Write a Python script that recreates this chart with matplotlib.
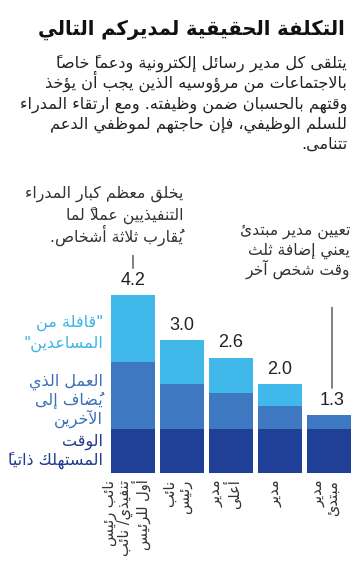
import matplotlib
matplotlib.use("Agg")
import matplotlib.pyplot as plt
from matplotlib.transforms import offset_copy

# ---- data ----
levels = ["نائب رئيس\nتنفيذي/ نائب\nأول للرئيس", "نائب\nرئيس", "مدير\nأعلى", "مدير", "مدير\nمبتدئ"]
self_time = [1.0, 1.0, 1.0, 1.0, 1.0]
added_work = [1.5, 1.0, 0.8, 0.5, 0.3]
crew = [1.5, 1.0, 0.8, 0.5, 0.0]
totals = [4.2, 3.0, 2.6, 2.0, 1.3]

title = "التكلفة الحقيقية لمديركم التالي"
body = ["يتلقى كل مدير رسائل إلكترونية ودعماً خاصاً",
        "بالاجتماعات من مرؤوسيه الذين يجب أن يؤخذ",
        "وقتهم بالحسبان ضمن وظيفته. ومع ارتقاء المدراء",
        "للسلم الوظيفي، فإن حاجتهم لموظفي الدعم",
        "تتنامى."]
note_top = ["يخلق معظم كبار المدراء", "التنفيذيين عملاً لما", "يُقارب ثلاثة أشخاص."]
note_low = ["تعيين مدير مبتدئ", "يعني إضافة ثلث", "وقت شخص آخر"]
legend_crew = ["\"قافلة من", "المساعدين\""]
legend_added = ["العمل الذي", "يُضاف إلى", "الآخرين"]
legend_self = ["الوقت", "المستهلك ذاتياً"]

DARK = "#203f96"
MID = "#3d78c1"
LIGHT = "#40b9ea"

# ---- poor man's arabic shaping (matplotlib has no bidi / joining) ----
DUAL = dict(zip("ئبتثجحخسشصضطظعغفقكلمنهي",
                [0xFE89, 0xFE8F, 0xFE95, 0xFE99, 0xFE9D, 0xFEA1, 0xFEA5, 0xFEB1, 0xFEB5, 0xFEB9,
                 0xFEBD, 0xFEC1, 0xFEC5, 0xFEC9, 0xFECD, 0xFED1, 0xFED5, 0xFED9, 0xFEDD, 0xFEE1,
                 0xFEE5, 0xFEE9, 0xFEF1]))
RIGHT = dict(zip("آأؤإاةدذرزوى",
                 [0xFE81, 0xFE83, 0xFE85, 0xFE87, 0xFE8D, 0xFE93, 0xFEA9, 0xFEAB, 0xFEAD, 0xFEAF,
                  0xFEED, 0xFEEF]))
LAMALEF = {"آ": 0xFEF5, "أ": 0xFEF7, "إ": 0xFEF9, "ا": 0xFEFB}


def jtype(u):
    if u[0] == "LA":
        return "R"
    c = u[1]
    if c in DUAL:
        return "D"
    if c in RIGHT:
        return "R"
    return None


def shape(s):
    units = []
    i = 0
    while i < len(s):
        c = s[i]
        if 0x064B <= ord(c) <= 0x0652 and units:
            units[-1][2].append(c)
            i += 1
            continue
        if c == "ل" and i + 1 < len(s) and s[i + 1] in LAMALEF:
            units.append(["LA", s[i + 1], []])
            i += 2
            continue
        units.append(["C", c, []])
        i += 1
    out = []
    for k, u in enumerate(units):
        t = jtype(u)
        prev = jtype(units[k - 1]) if k > 0 else None
        nxt = jtype(units[k + 1]) if k + 1 < len(units) else None
        cp = t in ("D", "R") and prev == "D"
        cn = t == "D" and nxt in ("D", "R")
        if u[0] == "LA":
            g = chr(LAMALEF[u[1]] + (1 if cp else 0))
        elif t == "D":
            g = chr(DUAL[u[1]] + (3 if cp and cn else 1 if cp else 2 if cn else 0))
        elif t == "R":
            g = chr(RIGHT[u[1]] + (1 if cp else 0))
        elif u[1] == "ء":
            g = chr(0xFE80)
        else:
            g = u[1]
        # marks go in front so they land on their base glyph
        out.append("".join(u[2]) + g)
    return "".join(out[::-1])


def ar(s):
    return "\n".join(shape(line) for line in s.split("\n"))


W, H = 359, 565
fig = plt.figure(figsize=(W / 100, H / 100), dpi=100)
renderer = fig.canvas.get_renderer()


def fx(x):
    return x / W


def fy(y):
    return 1 - y / H


def fit(t, width):
    # scale the font so the text spans the wanted pixel width
    w = t.get_window_extent(renderer).width
    t.set_fontsize(t.get_fontsize() * width / w)


AR_FONT = "DejaVu Sans"

# title and intro
tt = fig.text(fx(345), fy(35), ar(title), ha="right", va="baseline", fontsize=14,
              fontweight="bold", family=AR_FONT, color="#111111")
fit(tt, 308)
for n, line in enumerate(body):
    fig.text(fx(347), fy(68 + n * 20.2), ar(line), ha="right", va="baseline",
             fontsize=11.6, family=AR_FONT, color="#222222")

# chart
px_per_unit = 44.4
ax = fig.add_axes([fx(108.5), fy(473), fx(245), (473 - 180) / H])
ax.set_xlim(-0.5, 4.5)
ax.set_ylim(0, (473 - 180) / px_per_unit)
ax.axis("off")

x = list(range(len(levels)))
mid_bottom = [a + b for a, b in zip(self_time, added_work)]
tops = [a + b for a, b in zip(mid_bottom, crew)]
ax.bar(x, self_time, width=0.9, color=DARK)
ax.bar(x, added_work, width=0.9, bottom=self_time, color=MID)
ax.bar(x, crew, width=0.9, bottom=mid_bottom, color=LIGHT)

for i, (t, lab) in enumerate(zip(tops, totals)):
    dx = 3 if i == len(tops) - 1 else 0
    ax.annotate(f"{lab:.1f}", (i, t), xytext=(dx * 0.72, 10.5), textcoords="offset points",
                ha="center", va="center", fontsize=13, family="Liberation Sans",
                color="#222222")


def leader(i, d0, d1, dx=0):
    tr0 = offset_copy(ax.transData, fig=fig, x=dx, y=d0, units="dots")
    tr1 = offset_copy(ax.transData, fig=fig, x=dx, y=d1, units="dots")
    ax.annotate("", xy=(i, tops[i]), xycoords=tr1, xytext=(i, tops[i]), textcoords=tr0,
                arrowprops=dict(arrowstyle="-", color="#222222", lw=0.8,
                                shrinkA=0, shrinkB=0), annotation_clip=False)


leader(0, 27, 40)
leader(4, 27, 108, dx=3)

# x labels, rotated
xoff = [-0.13, -0.1, -0.12, -0.1, -0.08]
for i, lab in enumerate(levels):
    ax.text(i + xoff[i], -0.15, ar(lab), rotation=90, ha="center", va="top",
            multialignment="right", fontsize=10.5, family=AR_FONT, color="#333333",
            linespacing=0.95)

# notes
for n, line in enumerate(note_top):
    fig.text(fx(183), fy(198 + n * 22), ar(line), ha="right", va="baseline",
             fontsize=11.3, family=AR_FONT, color="#333333")
for n, line in enumerate(note_low):
    fig.text(fx(350), fy(235 + n * 20), ar(line), ha="right", va="baseline",
             fontsize=11.2, family=AR_FONT, color="#333333")

# legend
for n, line in enumerate(legend_crew):
    fig.text(fx(103), fy(327 + n * 21), ar(line), ha="right", va="baseline",
             fontsize=11.5, family=AR_FONT, color="#3bb3e3")
for n, line in enumerate(legend_added):
    fig.text(fx(103), fy(386 + n * 19), ar(line), ha="right", va="baseline",
             fontsize=11.5, family=AR_FONT, color="#3a70b8")
for n, line in enumerate(legend_self):
    fig.text(fx(103), fy(446 + n * 19), ar(line), ha="right", va="baseline",
             fontsize=11.5, family=AR_FONT, color="#203a8c")

fig.savefig("out.png", dpi=100)
